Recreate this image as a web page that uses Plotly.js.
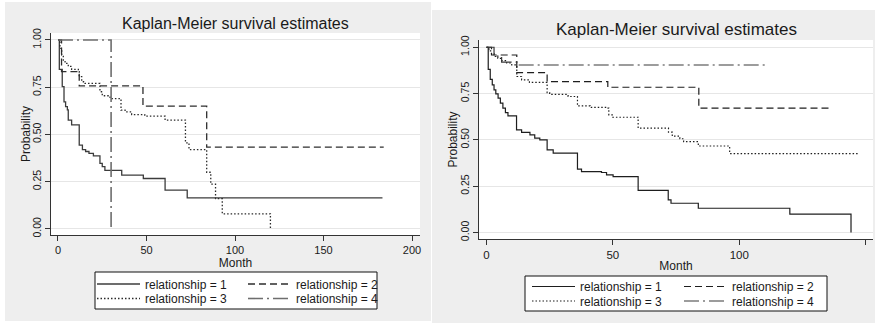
<!DOCTYPE html>
<html>
<head>
<meta charset="utf-8">
<script src="https://cdn.plot.ly/plotly-3.0.1.min.js"></script>
<style>html,body{margin:0;padding:0;background:#fff;}#chart{width:875px;height:323px;}</style>
</head>
<body>
<div id="chart"></div>
<script>
// ---------- Data ----------
const seriesNames = ["relationship = 1", "relationship = 2", "relationship = 3", "relationship = 4"];
const panelTitle = "Kaplan-Meier survival estimates";
const xTitle = "Month";
const yTitle = "Probability";
const yTickVals = [0, 0.25, 0.5, 0.75, 1];
const xTickValsLeft = [0, 50, 100, 150, 200];
const xTickValsRight = [0, 50, 100, 150];

// Left panel
const L_rel1_t = [0, 0.75, 2.4, 3.4, 4.3, 5.3, 5.8, 7.7, 12, 13.8, 15.6, 17.5, 20, 23.7, 25, 26.5, 36, 48.2, 60.5, 73, 183.3];
const L_rel1_s = [1, 0.845, 0.753, 0.673, 0.647, 0.63, 0.576, 0.551, 0.444, 0.42, 0.41, 0.40, 0.387, 0.347, 0.33, 0.31, 0.285, 0.267, 0.205, 0.164, 0.164];
const L_rel2_t = [0, 2, 12, 48, 84, 184];
const L_rel2_s = [1, 0.833, 0.757, 0.65, 0.433, 0.433];
const L_rel3_t = [0, 1.1, 2.1, 3.0, 4.0, 5.8, 7.7, 11.5, 12, 13.4, 15.3, 23.7, 25, 29.4, 35.6, 37.9, 41.6, 49, 60.5, 72, 74, 84, 86.3, 89, 92.8, 120];
const L_rel3_s = [1, 0.956, 0.92, 0.89, 0.876, 0.86, 0.845, 0.832, 0.806, 0.779, 0.77, 0.726, 0.705, 0.69, 0.629, 0.62, 0.605, 0.597, 0.576, 0.456, 0.42, 0.30, 0.237, 0.16, 0.08, 0];
const L_rel4_t = [0, 30];
const L_rel4_s = [1, 0];

// Right panel
const R_rel1_t = [0, 0.7, 1.5, 2.3, 3, 3.7, 4.6, 5.5, 6.5, 7.5, 8.5, 11.9, 13.9, 17.2, 19.1, 21.1, 24, 26.4, 36, 37.6, 45.5, 47.5, 50.1, 60, 71.9, 73, 83.8, 120, 144.2];
const R_rel1_s = [1, 0.881, 0.827, 0.797, 0.77, 0.748, 0.725, 0.698, 0.671, 0.647, 0.63, 0.554, 0.54, 0.527, 0.509, 0.5, 0.446, 0.428, 0.342, 0.329, 0.324, 0.311, 0.302, 0.227, 0.176, 0.158, 0.131, 0.099, 0];
const R_rel2_t = [0, 2, 12, 24, 48, 84, 135.6];
const R_rel2_s = [1, 0.958, 0.863, 0.814, 0.784, 0.671, 0.671];
const R_rel3_t = [0, 1, 2, 3, 4.5, 6, 8, 10, 12, 13.9, 17, 24, 25, 32.3, 36, 41, 47.5, 48.4, 50, 60, 72, 73.5, 76.5, 78, 83.8, 96.2, 147.5];
const R_rel3_s = [1, 0.98, 0.965, 0.95, 0.94, 0.928, 0.915, 0.905, 0.842, 0.824, 0.81, 0.755, 0.745, 0.734, 0.683, 0.675, 0.671, 0.635, 0.622, 0.563, 0.542, 0.52, 0.506, 0.49, 0.467, 0.426, 0.426];
const R_rel4_t = [0, 3, 6, 12, 111.5];
const R_rel4_s = [1, 0.952, 0.92, 0.904, 0.904];

// ---------- Helpers ----------
const W = 875, H = 323;
const px = v => v / W;            // x pixel -> paper
const py = v => 1 - v / H;        // y pixel -> paper
const FONT = "Liberation Sans, Arial, Helvetica, sans-serif";
const TXT = "#1a1a1a";

const dashSolid = "solid";
const dashDash = "7px,4px";
const dashDot = "1.5px,2px";
const dashDashDot = "15px,4px,2px,4px";

function tr(t, s, name, dash, color, width, xa, ya, legendId) {
  return {
    type: "scatter", mode: "lines", x: t, y: s, name: name,
    line: {shape: "hv", dash: dash, color: color, width: width},
    xaxis: xa, yaxis: ya, legend: legendId, showlegend: true, hoverinfo: "x+y+name"
  };
}

const traces = [
  tr(L_rel1_t, L_rel1_s, seriesNames[0], dashSolid, "#3c3c3c", 1.3, "x", "y", "legend"),
  tr(L_rel2_t, L_rel2_s, seriesNames[1], dashDash, "#2e2e2e", 1.3, "x", "y", "legend2"),
  tr(L_rel3_t, L_rel3_s, seriesNames[2], dashDot, "#2a2a2a", 1.3, "x", "y", "legend3"),
  tr(L_rel4_t, L_rel4_s, seriesNames[3], dashDashDot, "#6e6e6e", 1.6, "x", "y", "legend4"),
  tr(R_rel1_t, R_rel1_s, seriesNames[0], dashSolid, "#1e1e1e", 1.2, "x2", "y2", "legend5"),
  tr(R_rel2_t, R_rel2_s, seriesNames[1], dashDash, "#1e1e1e", 1.2, "x2", "y2", "legend6"),
  tr(R_rel3_t, R_rel3_s, seriesNames[2], dashDot, "#1e1e1e", 1.2, "x2", "y2", "legend7"),
  tr(R_rel4_t, R_rel4_s, seriesNames[3], dashDashDot, "#3a3a3a", 1.2, "x2", "y2", "legend8")
];

function legendAt(xPix, rowPix) {
  return {
    x: px(xPix), y: py(rowPix - 14.5), xanchor: "left", yanchor: "top",
    xref: "paper", yref: "paper", orientation: "v",
    bgcolor: "rgba(0,0,0,0)", borderwidth: 0, itemwidth: 43,
    font: {family: FONT, size: 12, color: TXT},
    itemclick: false, itemdoubleclick: false
  };
}

function xAxis(domain, range, tickvals, anchor, fs) {
  return {
    domain: domain, range: range, anchor: anchor,
    tickmode: "array", tickvals: tickvals, ticks: "outside", ticklen: 5,
    tickcolor: "#333", tickwidth: 1, showline: true, linecolor: "#333", linewidth: 1,
    showgrid: false, zeroline: false, automargin: false,
    tickfont: {family: FONT, size: fs, color: TXT},
    title: {text: xTitle, font: {family: FONT, size: 12, color: TXT}, standoff: 1}
  };
}
function yAxis(domain, range, anchor) {
  return {
    domain: domain, range: range, anchor: anchor,
    tickmode: "array", tickvals: yTickVals, tickformat: ".2f", tickangle: -90,
    ticks: "outside", ticklen: 5, tickcolor: "#333", tickwidth: 1,
    showline: true, linecolor: "#333", linewidth: 1,
    showgrid: true, gridcolor: "#e6e6e6", gridwidth: 1, zeroline: false, automargin: false,
    tickfont: {family: FONT, size: 10.5, color: TXT}
  };
}

// Plot-area pixel boxes
const LP = {l: 51, r: 420, t: 33, b: 235};
const RP = {l: 479, r: 873, t: 40, b: 239};

const layout = {
  width: W, height: H,
  margin: {l: 0, r: 0, t: 0, b: 0, pad: 0},
  paper_bgcolor: "#ffffff", plot_bgcolor: "#ffffff",
  font: {family: FONT, color: TXT},
  hovermode: "closest",
  showlegend: true,
  xaxis: xAxis([px(LP.l), px(LP.r)], [-3.95, 204.5], xTickValsLeft, "y", 11),
  yaxis: yAxis([py(LP.b), py(LP.t)], [-0.032, 1.037], "x"),
  xaxis2: xAxis([px(RP.l), px(RP.r)], [-2.95, 152.9], xTickValsRight, "y2", 11.5),
  yaxis2: yAxis([py(RP.b), py(RP.t)], [-0.035, 1.039], "x2"),
  legend: legendAt(92, 284),
  legend2: legendAt(243, 284),
  legend3: legendAt(92, 298.5),
  legend4: legendAt(243, 298.5),
  legend5: legendAt(527, 286.5),
  legend6: legendAt(679, 286.5),
  legend7: legendAt(527, 301),
  legend8: legendAt(679, 301),
  shapes: [
    // grey graph regions
    {type: "rect", xref: "paper", yref: "paper", layer: "below", x0: px(5), x1: px(431), y0: py(321), y1: py(2), fillcolor: "#eeeeee", line: {width: 0}},
    {type: "rect", xref: "paper", yref: "paper", layer: "below", x0: px(432), x1: px(875), y0: py(323), y1: py(10), fillcolor: "#eeeeee", line: {width: 0}},
    // white plot regions
    {type: "rect", xref: "paper", yref: "paper", layer: "below", x0: px(LP.l), x1: px(LP.r), y0: py(LP.b), y1: py(LP.t), fillcolor: "#ffffff", line: {width: 0}},
    {type: "rect", xref: "paper", yref: "paper", layer: "below", x0: px(RP.l), x1: px(RP.r), y0: py(RP.b), y1: py(RP.t), fillcolor: "#ffffff", line: {width: 0}},
    // legend boxes
    {type: "rect", xref: "paper", yref: "paper", layer: "below", x0: px(95), x1: px(377), y0: py(309), y1: py(272), fillcolor: "#ffffff", line: {color: "#111", width: 1}},
    {type: "rect", xref: "paper", yref: "paper", layer: "below", x0: px(525), x1: px(827), y0: py(311), y1: py(276), fillcolor: "#ffffff", line: {color: "#111", width: 1}}
  ],
  annotations: [
    {text: panelTitle, xref: "paper", yref: "paper", x: px(235.5), y: py(23), xanchor: "center", yanchor: "middle", showarrow: false, font: {family: FONT, size: 16, color: TXT}},
    {text: panelTitle, xref: "paper", yref: "paper", x: px(676), y: py(30), xanchor: "center", yanchor: "middle", showarrow: false, font: {family: FONT, size: 17, color: TXT}},
    {text: yTitle, xref: "paper", yref: "paper", x: px(26), y: py((LP.t + LP.b) / 2), xanchor: "center", yanchor: "middle", textangle: -90, showarrow: false, font: {family: FONT, size: 12, color: TXT}},
    {text: yTitle, xref: "paper", yref: "paper", x: px(452), y: py((RP.t + RP.b) / 2), xanchor: "center", yanchor: "middle", textangle: -90, showarrow: false, font: {family: FONT, size: 12, color: TXT}}
  ]
};

Plotly.newPlot("chart", traces, layout, {displayModeBar: false, staticPlot: false, responsive: false});
</script>
</body>
</html>
